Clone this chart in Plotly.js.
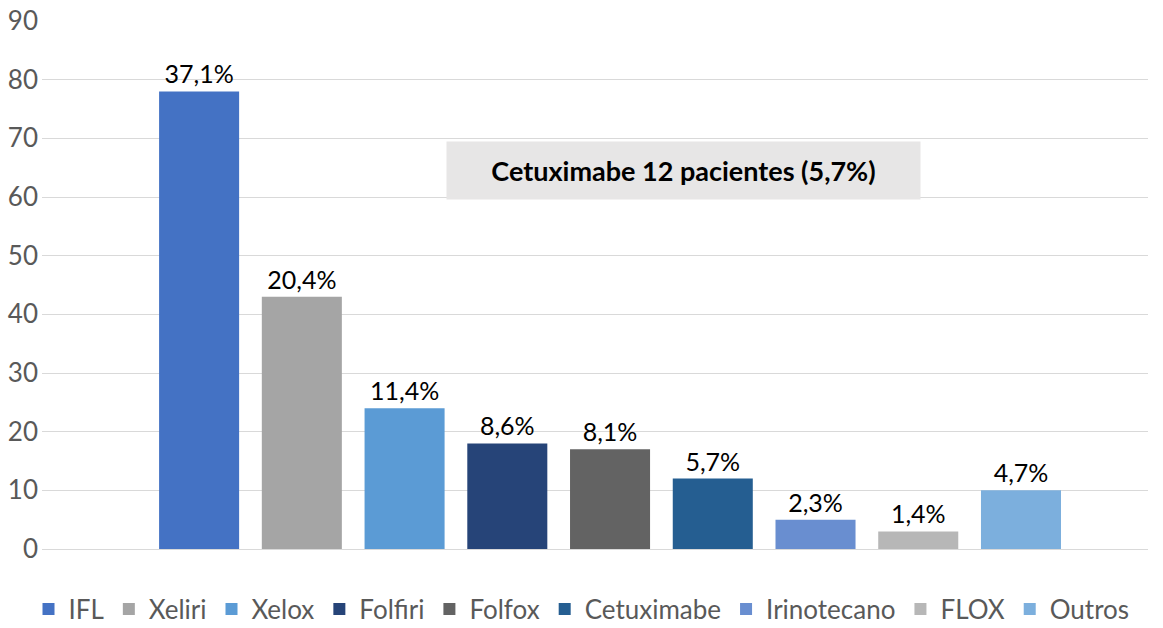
<!DOCTYPE html>
<html>
<head>
<meta charset="utf-8">
<script src="https://cdn.plot.ly/plotly-3.0.1.min.js"></script>
<style>html,body{margin:0;padding:0;background:#fff;}#chart{width:1163px;height:628px;}</style>
</head>
<body>
<div id="chart"></div>
<script>
const series = ['IFL','Xeliri','Xelox','Folfiri','Folfox','Cetuximabe','Irinotecano','FLOX','Outros'];
const values = [78, 43, 24, 18, 17, 12, 5, 3, 10];
const labels = ['37,1%','20,4%','11,4%','8,6%','8,1%','5,7%','2,3%','1,4%','4,7%'];
const colors = ['#4472C4','#A5A5A5','#5B9BD5','#264478','#636363','#255E91','#698ED0','#B7B7B7','#7CAFDD'];
const yTicks = [0,10,20,30,40,50,60,70,80,90];
const noteText = 'Cetuximabe 12 pacientes (5,7%)';

const FONT = 'Lato, "Open Sans", sans-serif';

const traces = series.map((name, i) => ({
  type: 'bar',
  name: name,
  x: [''],
  y: [values[i]],
  text: [labels[i]],
  textposition: 'outside',
  cliponaxis: false,
  textfont: {family: FONT, size: 25, color: '#000000'},
  marker: {color: colors[i]},
  hoverinfo: 'none'
}));

const layout = {
  width: 1163,
  height: 628,
  margin: {l: 42, r: 15, t: 21, b: 79, autoexpand: false},
  paper_bgcolor: '#ffffff',
  plot_bgcolor: '#ffffff',
  barmode: 'group',
  bargap: 0.164,
  bargroupgap: 0.221,
  showlegend: true,
  legend: {
    orientation: 'h',
    x: 0.5, xanchor: 'center', xref: 'container',
    y: 0.03, yanchor: 'middle', yref: 'container',
    font: {family: FONT, size: 26, color: '#595959'},
    itemclick: false,
    traceorder: 'normal'
  },
  xaxis: {
    type: 'category',
    range: [-0.5136, 0.4864],
    showticklabels: false,
    showgrid: false,
    zeroline: false,
    showline: false,
    ticks: ''
  },
  yaxis: {
    range: [0, 90],
    tickvals: yTicks,
    ticktext: yTicks.map(String),
    showgrid: true,
    gridcolor: '#D9D9D9',
    gridwidth: 1,
    zeroline: true,
    zerolinecolor: '#D9D9D9',
    zerolinewidth: 1,
    showline: false,
    ticks: '',
    ticklabelstandoff: 3,
    tickfont: {family: FONT, size: 26, color: '#595959'}
  },
  annotations: [{
    xref: 'paper', yref: 'y',
    x: 0.5796, y: 64.6,
    xanchor: 'center', yanchor: 'middle',
    text: '<b>' + noteText + '</b>',
    showarrow: false,
    bgcolor: '#E7E6E6',
    width: 471, height: 55,
    font: {family: FONT, size: 27, color: '#000000'}
  }]
};

Plotly.newPlot('chart', traces, layout, {displayModeBar: false, staticPlot: true});
</script>
</body>
</html>
